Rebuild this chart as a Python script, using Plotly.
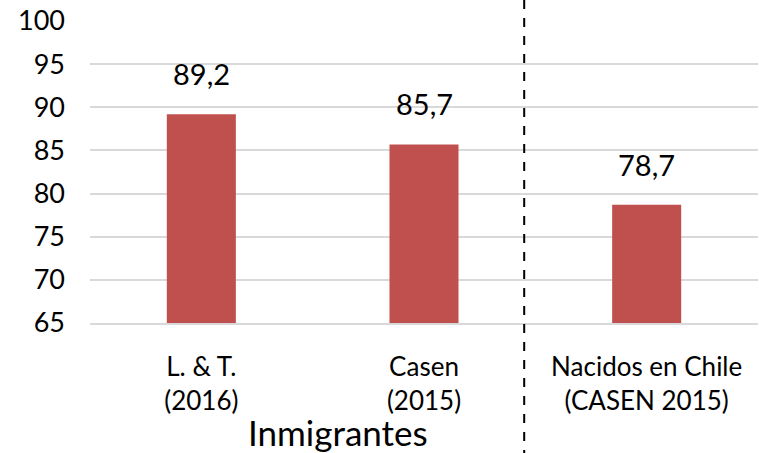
import plotly.graph_objects as go

categories = ["L. & T.<br>(2016)", "Casen<br>(2015)", "Nacidos en Chile<br>(CASEN 2015)"]
values = [89.2, 85.7, 78.7]
group_label = "Inmigrantes"

FONT = "Lato"

fig = go.Figure()
fig.add_trace(go.Bar(x=categories, y=values, marker_color="#c0504d",
                     marker_line_width=0, width=0.31))

# data labels with comma as decimal separator
for cat, v in zip(categories, values):
    fig.add_annotation(x=cat, y=v, text=f"{v:.1f}".replace(".", ","),
                       showarrow=False, yanchor="bottom", yshift=21,
                       font=dict(family=FONT, size=29, color="black"))

fig.add_annotation(xref="paper", yref="paper", x=0.371, y=-0.362,
                   xanchor="center", yanchor="middle",
                   text=group_label, showarrow=False,
                   font=dict(family=FONT, size=35, color="black"))

# dashed separator between immigrant and native groups
fig.add_shape(type="line", xref="paper", yref="paper", x0=0.65, x1=0.65,
              y0=-0.45, y1=1.08, line=dict(color="black", width=2, dash="dash"))

fig.update_layout(
    width=759, height=453,
    margin=dict(l=90, r=1, t=21, b=130),
    plot_bgcolor="white", paper_bgcolor="white",
    showlegend=False,
    font=dict(family=FONT, size=26, color="black"),
)
fig.update_xaxes(showline=True, linecolor="#d9d9d9", linewidth=1.5, ticks="",
                 tickfont=dict(size=26), automargin=False, ticklabelstandoff=20)
fig.update_yaxes(range=[65, 100], dtick=5, showgrid=True, gridcolor="#d9d9d9",
                 gridwidth=1.5, zeroline=False, ticks="", ticklabelstandoff=24,
                 tickfont=dict(size=27), automargin=False)

fig.write_html("out.html", config={"displayModeBar": False},
               post_script="document.body.style.margin='0';")
